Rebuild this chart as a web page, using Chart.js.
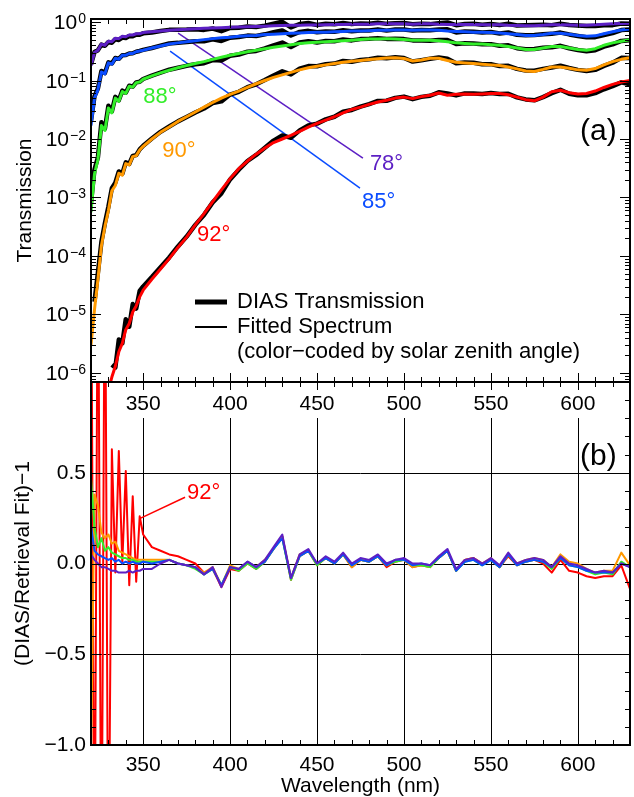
<!DOCTYPE html>
<html>
<head>
<meta charset="utf-8">
<script src="https://cdn.jsdelivr.net/npm/chart.js@4/dist/chart.umd.min.js"></script>
<style>
  html, body { margin: 0; padding: 0; background: #fff; }
  #chart { display: block; }
</style>
</head>
<body>
<canvas id="chart" width="634" height="797"></canvas>
<script>
// wavelength grid (nm): 2 nm steps in the Huggins region, 5 nm after that
const wavelength = [320,322,324,326,328,330,332,334,336,338,340,342,344,346,348,350,
  355,360,365,370,375,380,385,390,395,400,
  405,410,415,420,425,430,435,440,445,450,
  455,460,465,470,475,480,485,490,495,500,
  505,510,515,520,525,530,535,540,545,550,
  555,560,565,570,575,580,585,590,595,600,
  605,610,615,620,625,630];

// fitted transmission spectra, one per solar zenith angle
const fit78 = [0.18,0.30,0.33,0.42,0.40,0.47,0.46,0.53,0.52,0.57,0.56,0.60,0.60,0.63,0.63,0.66,
  0.68,0.70,0.72,0.74,0.75,0.77,0.78,0.79,0.80,0.81,
  0.82,0.83,0.84,0.85,0.86,0.87,0.88,0.88,0.89,0.89,
  0.90,0.91,0.91,0.92,0.92,0.92,0.93,0.93,0.93,0.93,
  0.92,0.93,0.93,0.92,0.91,0.91,0.91,0.91,0.90,0.90,
  0.90,0.88,0.87,0.86,0.86,0.88,0.90,0.90,0.89,0.88,
  0.88,0.90,0.92,0.93,0.94,0.95];
const fit85 = [0.017,0.05,0.07,0.14,0.13,0.20,0.19,0.24,0.23,0.27,0.27,0.29,0.29,0.31,0.32,0.33,
  0.36,0.39,0.42,0.44,0.46,0.48,0.50,0.52,0.54,0.55,
  0.57,0.58,0.59,0.61,0.62,0.63,0.64,0.65,0.66,0.67,
  0.67,0.68,0.69,0.70,0.70,0.71,0.72,0.72,0.73,0.73,
  0.72,0.73,0.73,0.72,0.70,0.69,0.68,0.67,0.67,0.66,
  0.65,0.63,0.61,0.59,0.59,0.61,0.64,0.64,0.62,0.59,
  0.57,0.58,0.63,0.68,0.73,0.76];
const fit88 = [5.6e-4,2.5e-3,4.5e-3,0.017,0.014,0.034,0.028,0.050,0.044,0.065,0.060,0.080,0.077,0.092,0.094,0.105,
  0.12,0.135,0.15,0.165,0.18,0.195,0.21,0.23,0.25,0.27,
  0.29,0.31,0.33,0.35,0.37,0.39,0.41,0.43,0.44,0.45,
  0.46,0.47,0.48,0.49,0.50,0.51,0.51,0.52,0.51,0.50,
  0.49,0.49,0.49,0.48,0.46,0.44,0.43,0.42,0.42,0.41,
  0.40,0.38,0.36,0.34,0.34,0.36,0.38,0.38,0.36,0.34,
  0.33,0.35,0.40,0.44,0.47,0.50];
const fit90 = [3e-6,1.2e-5,4e-5,1.5e-4,3.2e-4,6e-4,1.3e-3,1.6e-3,2.6e-3,2.4e-3,3.8e-3,3.6e-3,5.0e-3,5.2e-3,6.5e-3,7.5e-3,
  0.010,0.013,0.016,0.020,0.024,0.029,0.035,0.042,0.050,0.058,
  0.066,0.076,0.088,0.10,0.113,0.125,0.138,0.152,0.165,0.175,
  0.185,0.195,0.205,0.213,0.22,0.228,0.235,0.242,0.245,0.238,
  0.215,0.225,0.24,0.24,0.22,0.205,0.20,0.195,0.19,0.185,
  0.18,0.17,0.158,0.145,0.143,0.155,0.17,0.17,0.162,0.152,
  0.15,0.16,0.185,0.21,0.23,0.245];
const fit92 = [null,null,null,null,null,5e-7,8.5e-7,1.3e-6,2.3e-6,3.2e-6,5.5e-6,7e-6,1.1e-5,1.4e-5,2e-5,2.6e-5,
  4.0e-5,6.0e-5,9.0e-5,1.4e-4,2.1e-4,3.4e-4,5.3e-4,8.5e-4,1.35e-3,2.1e-3,
  3.1e-3,4.2e-3,5.5e-3,7.0e-3,8.7e-3,0.010,0.0115,0.0135,0.016,0.0185,
  0.021,0.024,0.028,0.032,0.035,0.039,0.043,0.046,0.050,0.052,
  0.049,0.053,0.056,0.061,0.056,0.058,0.059,0.058,0.059,0.060,
  0.060,0.057,0.052,0.047,0.045,0.052,0.064,0.068,0.062,0.059,
  0.060,0.066,0.076,0.086,0.094,0.10];

// residuals DIAS/fit - 1
const res78 = [0.05,0.02,0.0,-0.02,-0.02,-0.03,-0.04,-0.04,-0.05,-0.05,-0.05,-0.04,-0.05,-0.04,-0.04,-0.03,
  -0.03,0.0,0.02,0.0,-0.01,-0.02,-0.06,-0.02,-0.13,-0.02,
  -0.03,0.01,-0.02,0.02,0.09,0.16,-0.08,0.05,0.08,0.0,
  0.04,0.01,0.06,0.0,0.03,0.02,0.05,0.0,0.02,0.03,
  0.0,0.0,-0.01,0.04,0.08,-0.03,0.02,0.03,0.0,0.03,
  -0.01,0.06,0.0,0.02,0.03,0.02,-0.02,0.04,0.0,-0.01,
  -0.03,-0.05,-0.04,-0.05,0.0,-0.02];
const res85 = [0.21,0.07,0.05,0.04,0.03,0.02,0.03,0.01,0.02,0.0,0.01,0.0,0.01,0.0,0.0,0.01,
  0.0,0.01,0.02,0.0,-0.01,-0.02,-0.06,-0.03,-0.12,-0.02,
  -0.03,0.01,-0.02,0.01,0.08,0.14,-0.08,0.04,0.07,0.0,
  0.03,0.0,0.05,-0.01,0.02,0.01,0.04,-0.01,0.02,0.02,
  -0.01,0.0,-0.01,0.03,0.07,-0.04,0.01,0.02,-0.01,0.02,
  -0.02,0.05,-0.01,0.01,0.02,0.01,-0.02,0.03,-0.01,-0.02,
  -0.04,-0.05,-0.05,-0.05,0.0,-0.02];
const res88 = [0.47,0.20,0.09,0.14,0.07,0.09,0.06,0.05,0.04,0.03,0.03,0.02,0.02,0.01,0.01,0.01,
  0.01,0.01,0.02,0.0,-0.01,-0.03,-0.06,-0.03,-0.12,-0.02,
  -0.04,0.0,-0.03,0.01,0.08,0.14,-0.09,0.04,0.07,-0.01,
  0.03,0.0,0.05,-0.01,0.02,0.01,0.04,-0.01,0.01,0.02,
  -0.01,-0.01,-0.02,0.03,0.07,-0.04,0.01,0.02,-0.01,0.02,
  -0.02,0.05,-0.01,0.01,0.02,0.01,-0.03,0.03,-0.01,-0.02,
  -0.04,-0.06,-0.05,-0.06,0.01,-0.02];
const res90 = [-1.1,0.38,0.32,0.17,0.14,0.16,0.11,0.12,0.07,0.06,0.05,0.04,0.03,0.02,0.02,0.02,
  0.02,0.02,0.02,0.0,-0.01,-0.02,-0.05,-0.02,-0.12,-0.01,
  -0.03,0.01,-0.02,0.02,0.08,0.15,-0.08,0.05,0.07,0.0,
  0.03,0.0,0.05,-0.02,0.02,0.01,0.04,-0.01,0.02,0.02,
  -0.02,-0.01,-0.02,0.03,0.07,-0.04,0.02,0.03,0.0,0.03,
  -0.02,0.05,0.0,0.02,0.03,0.02,-0.02,0.05,0.01,0.0,
  -0.03,-0.05,-0.04,-0.04,0.06,-0.01];
const res92 = [2,-2,2,-2,2,-2,0.63,-0.05,0.62,0.0,0.51,-0.12,0.37,-0.10,0.26,0.16,
  0.09,0.07,0.05,0.04,0.02,0.0,-0.05,-0.03,-0.13,-0.03,
  -0.04,0.0,-0.03,0.01,0.08,0.15,-0.09,0.04,0.07,-0.01,
  0.03,0.0,0.05,-0.02,0.02,0.01,0.04,-0.02,0.01,0.02,
  -0.02,-0.01,-0.02,0.03,0.07,-0.04,0.02,0.03,0.0,0.02,
  -0.02,0.04,-0.01,0.01,0.02,0.0,-0.05,0.02,-0.04,-0.05,
  -0.07,-0.08,-0.07,-0.07,-0.01,-0.14];

// ticks
const xTicks = [350, 400, 450, 500, 550, 600];
const decadeExponents = [0, -1, -2, -3, -4, -5, -6];
const residualTicks = [-1.0, -0.5, 0.0, 0.5];
const residualGrid = [-0.5, 0.0, 0.5];

const FONT = '"Liberation Sans", Arial, Helvetica, sans-serif';
const colors = { z78: '#5c1fc4', z85: '#0a4cff', z88: '#33ee2a', z90: '#ff9900', z92: '#ff0000' };

const series = [
  { angle: '78°', color: colors.z78, fit: fit78, res: res78 },
  { angle: '85°', color: colors.z85, fit: fit85, res: res85 },
  { angle: '88°', color: colors.z88, fit: fit88, res: res88 },
  { angle: '90°', color: colors.z90, fit: fit90, res: res90 },
  { angle: '92°', color: colors.z92, fit: fit92, res: res92 }
];

// text labels and leader lines, placed in data coordinates
const labels = [
  { text: '78°', color: colors.z78, axis: 'yT', x: 480.4, y: 3.74e-3 },
  { text: '85°', color: colors.z85, axis: 'yT', x: 475.9, y: 8.4e-4 },
  { text: '88°', color: colors.z88, axis: 'yT', x: 350.0, y: 0.0522 },
  { text: '90°', color: colors.z90, axis: 'yT', x: 361.0, y: 6.2e-3 },
  { text: '92°', color: colors.z92, axis: 'yT', x: 381.0, y: 2.29e-4 },
  { text: '92°', color: colors.z92, axis: 'yR', x: 375.2, y: 0.39 }
];
const leaders = [
  { color: colors.z78, axis: 'yT', x0: 370.1, y0: 0.648, x1: 476.4, y1: 4.73e-3 },
  { color: colors.z85, axis: 'yT', x0: 365.5, y0: 0.319, x1: 474.7, y1: 1.45e-3 },
  { color: colors.z92, axis: 'yR', x0: 348.3, y0: 0.249, x1: 374.1, y1: 0.365 }
];

const pts = arr => wavelength.map((w, i) => ({ x: w, y: arr[i] }));

const datasets = [];
series.forEach((s, i) => {
  datasets.push({ label: 'Fit ' + s.angle, data: pts(s.fit), borderColor: s.color,
    borderWidth: 3, yAxisID: 'yT', order: 1 });
  // measured DIAS transmission = fit * (1 + residual)
  const dias = s.fit.map((f, j) => f == null ? null : f * (1 + s.res[j]));
  datasets.push({ label: 'DIAS ' + s.angle, data: pts(dias), borderColor: '#000',
    borderWidth: 4.5, yAxisID: 'yT', order: 2 });
  datasets.push({ label: 'Residual ' + s.angle, data: pts(s.res), borderColor: s.color,
    borderWidth: 2, yAxisID: 'yR', order: 3 + i });
});

const fmtRes = v => (v < 0 ? '\u2212' : '') + Math.abs(v).toFixed(1);

const panels = {
  id: 'panels',
  beforeDatasetsDraw(chart) {
    const { ctx, scales: { x, yR } } = chart;
    ctx.save();
    ctx.strokeStyle = '#000';
    ctx.lineWidth = 1;
    ctx.beginPath();
    xTicks.forEach(v => {
      const px = Math.round(x.getPixelForValue(v)) + 0.5;
      ctx.moveTo(px, yR.top); ctx.lineTo(px, yR.bottom);
    });
    residualGrid.forEach(v => {
      const py = Math.round(yR.getPixelForValue(v)) + 0.5;
      ctx.moveTo(x.left, py); ctx.lineTo(x.right, py);
    });
    ctx.stroke();
    ctx.lineWidth = 1.5;
    leaders.forEach(l => {
      const s = chart.scales[l.axis];
      ctx.strokeStyle = l.color;
      ctx.beginPath();
      ctx.moveTo(x.getPixelForValue(l.x0), s.getPixelForValue(l.y0));
      ctx.lineTo(x.getPixelForValue(l.x1), s.getPixelForValue(l.y1));
      ctx.stroke();
    });
    ctx.restore();
  },
  beforeDatasetDraw(chart, args) {
    const { ctx, chartArea } = chart;
    const ys = args.meta.yScale;
    ctx.save();
    ctx.beginPath();
    ctx.rect(chartArea.left, ys.top, chartArea.right - chartArea.left, ys.bottom - ys.top);
    ctx.clip();
  },
  afterDatasetDraw(chart) {
    chart.ctx.restore();
  },
  afterDraw(chart) {
    const { ctx, scales: { x, yT, yR } } = chart;
    ctx.save();

    // inward tick marks
    ctx.strokeStyle = '#000';
    ctx.lineWidth = 1;
    ctx.beginPath();
    for (let v = 320; v <= 630; v += 10) {
      const px = Math.round(x.getPixelForValue(v)) + 0.5;
      const len = v % 50 === 0 ? 9 : 5;
      [yT, yR].forEach(s => {
        ctx.moveTo(px, s.top); ctx.lineTo(px, s.top + len);
        ctx.moveTo(px, s.bottom); ctx.lineTo(px, s.bottom - len);
      });
    }
    for (let e = -7; e <= 0; e++) {
      for (let k = 1; k <= 9; k++) {
        const v = k * Math.pow(10, e);
        if (v < yT.min || v > yT.max) continue;
        const py = Math.round(yT.getPixelForValue(v)) + 0.5;
        const len = k === 1 ? 10 : 5;
        ctx.moveTo(x.left, py); ctx.lineTo(x.left + len, py);
        ctx.moveTo(x.right, py); ctx.lineTo(x.right - len, py);
      }
    }
    for (let i = -10; i <= 10; i++) {
      const py = Math.round(yR.getPixelForValue(i / 10)) + 0.5;
      const len = i % 5 === 0 ? 10 : 5;
      ctx.moveTo(x.left, py); ctx.lineTo(x.left + len, py);
      ctx.moveTo(x.right, py); ctx.lineTo(x.right - len, py);
    }
    ctx.stroke();

    // panel frames
    ctx.lineWidth = 2;
    ctx.strokeRect(x.left, yT.top, x.right - x.left, yT.bottom - yT.top);
    ctx.strokeRect(x.left, yR.top, x.right - x.left, yR.bottom - yR.top);

    // wavelength labels of panel (a), sitting on a white backdrop
    ctx.font = '21px ' + FONT;
    ctx.textAlign = 'center';
    ctx.textBaseline = 'middle';
    xTicks.forEach(v => {
      const px = x.getPixelForValue(v);
      const w = ctx.measureText(String(v)).width;
      ctx.fillStyle = '#fff';
      ctx.fillRect(px - w / 2 - 3, yT.bottom + 8, w + 6, 28);
      ctx.fillStyle = '#000';
      ctx.fillText(String(v), px, yT.bottom + 22);
    });

    // log labels 10^n
    ctx.textAlign = 'right';
    ctx.textBaseline = 'alphabetic';
    ctx.fillStyle = '#000';
    decadeExponents.forEach(e => {
      const py = yT.getPixelForValue(Math.pow(10, e));
      const exp = e === 0 ? '0' : '\u2212' + (-e);
      const right = x.left - 5;
      ctx.font = '14px ' + FONT;
      const we = ctx.measureText(exp).width;
      ctx.fillText(exp, right, py + 1);
      ctx.font = '21px ' + FONT;
      ctx.fillText('10', right - we - 1, py + 7);
    });

    // angle labels
    ctx.font = '22px ' + FONT;
    ctx.textAlign = 'left';
    ctx.textBaseline = 'middle';
    labels.forEach(l => {
      ctx.fillStyle = l.color;
      ctx.fillText(l.text, x.getPixelForValue(l.x), chart.scales[l.axis].getPixelForValue(l.y));
    });

    // panel tags
    ctx.font = '30px ' + FONT;
    ctx.textAlign = 'right';
    ctx.fillStyle = '#000';
    ctx.fillText('(a)', x.getPixelForValue(622.4), yT.getPixelForValue(0.0134));
    ctx.fillText('(b)', x.getPixelForValue(622.4), yR.getPixelForValue(0.59));

    // legend
    const lx = x.left + 104, ly = yT.top + 283;
    ctx.strokeStyle = '#000';
    ctx.lineWidth = 5;
    ctx.beginPath(); ctx.moveTo(lx, ly); ctx.lineTo(lx + 32, ly); ctx.stroke();
    ctx.lineWidth = 2;
    ctx.beginPath(); ctx.moveTo(lx, ly + 25); ctx.lineTo(lx + 32, ly + 25); ctx.stroke();
    ctx.font = '22px ' + FONT;
    ctx.textAlign = 'left';
    ctx.fillText('DIAS Transmission', lx + 42, ly);
    ctx.fillText('Fitted Spectrum', lx + 42, ly + 25);
    ctx.fillText('(color\u2212coded by solar zenith angle)', lx + 42, ly + 50);

    ctx.restore();
  }
};

Chart.defaults.font.family = FONT;
Chart.defaults.color = '#000';

new Chart(document.getElementById('chart'), {
  type: 'line',
  data: { datasets },
  options: {
    responsive: false,
    animation: false,
    devicePixelRatio: 1,
    events: [],
    layout: { padding: { top: 19, right: 4, bottom: 0, left: 0 } },
    elements: {
      point: { radius: 0 },
      line: { tension: 0, borderJoinStyle: 'round', fill: false }
    },
    plugins: { legend: { display: false }, tooltip: { enabled: false } },
    scales: {
      x: {
        type: 'linear', min: 320, max: 630, position: 'bottom',
        grid: { display: false, drawTicks: false }, border: { display: false },
        afterBuildTicks: s => { s.ticks = xTicks.map(v => ({ value: v })); },
        afterFit: s => { s.height = 52; },
        ticks: { font: { size: 21 }, padding: 8, maxRotation: 0, autoSkip: false },
        title: { display: true, text: 'Wavelength (nm)', font: { size: 21 }, padding: { top: 0, bottom: -2 } }
      },
      yR: {
        type: 'linear', min: -1, max: 1, position: 'left', stack: 'panels', stackWeight: 1,
        grid: { display: false, drawTicks: false }, border: { display: false },
        afterBuildTicks: s => { s.ticks = residualTicks.map(v => ({ value: v })); },
        afterFit: s => { s.width = 91; },
        ticks: { font: { size: 21 }, padding: 5, callback: v => fmtRes(v) },
        title: { display: true, text: '(DIAS/Retrieval Fit)\u22121', font: { size: 21 }, padding: { top: 11 } }
      },
      yT: {
        type: 'logarithmic', min: 7.0e-7, max: 1.126, position: 'left', stack: 'panels', stackWeight: 1,
        grid: { display: false, drawTicks: false }, border: { display: false },
        ticks: { display: false },
        afterFit: s => { s.width = 91; },
        title: { display: true, text: 'Transmission', font: { size: 21 }, padding: { top: 13 } }
      }
    }
  },
  plugins: [panels]
});
</script>
</body>
</html>
